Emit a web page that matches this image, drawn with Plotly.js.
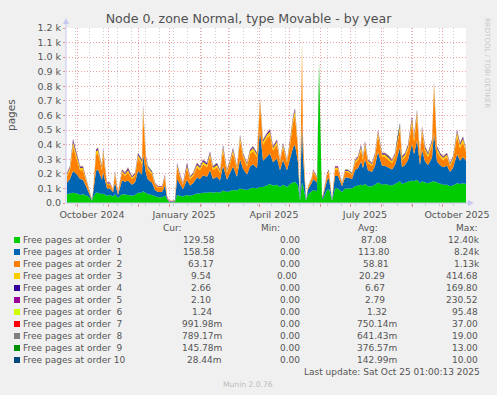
<!DOCTYPE html>
<html>
<head>
<meta charset="utf-8">
<script src="https://cdn.plot.ly/plotly-3.0.1.min.js"></script>
<style>html,body{margin:0;padding:0;background:#F0F0F0;}#chart{width:497px;height:395px;}</style>
</head>
<body>
<div id="chart"></div>
<script>
// ---------- DATA ----------
const dates = [
'2024-09-21','2024-09-24','2024-09-27','2024-10-01','2024-10-04','2024-10-07','2024-10-11','2024-10-14','2024-10-16','2024-10-17',
'2024-10-20','2024-10-22','2024-10-26','2024-10-27','2024-10-31','2024-11-03','2024-11-06','2024-11-08','2024-11-11','2024-11-15',
'2024-11-18','2024-11-21','2024-11-25','2024-11-28','2024-12-01','2024-12-05','2024-12-06','2024-12-09','2024-12-11','2024-12-15',
'2024-12-18','2024-12-21','2024-12-25','2024-12-28','2024-12-30','2025-01-01','2025-01-04','2025-01-07','2025-01-09','2025-01-12',
'2025-01-15','2025-01-19','2025-01-22','2025-01-25','2025-01-29','2025-02-01','2025-02-04','2025-02-08','2025-02-11','2025-02-14',
'2025-02-18','2025-02-21','2025-02-24','2025-02-28','2025-03-03','2025-03-06','2025-03-10','2025-03-13','2025-03-16','2025-03-20',
'2025-03-23','2025-03-26','2025-03-30','2025-04-02','2025-04-05','2025-04-09','2025-04-12','2025-04-15','2025-04-19','2025-04-22',
'2025-04-25','2025-04-29','2025-05-02','2025-05-05','2025-05-07','2025-05-10','2025-05-12','2025-05-14','2025-05-15','2025-05-18',
'2025-05-20','2025-05-24','2025-05-25','2025-05-29','2025-05-31','2025-06-03','2025-06-04','2025-06-08','2025-06-10','2025-06-13',
'2025-06-16','2025-06-19','2025-06-23','2025-06-26','2025-06-29','2025-07-03','2025-07-06','2025-07-09','2025-07-12','2025-07-14',
'2025-07-16','2025-07-19','2025-07-23','2025-07-26','2025-07-29','2025-08-02','2025-08-05','2025-08-08','2025-08-12','2025-08-15',
'2025-08-18','2025-08-20','2025-08-22','2025-08-25','2025-08-28','2025-08-30','2025-09-01','2025-09-03','2025-09-06','2025-09-09',
'2025-09-11','2025-09-14','2025-09-17','2025-09-21','2025-09-23','2025-09-26','2025-09-29','2025-10-02','2025-10-06','2025-10-09',
'2025-10-12','2025-10-16','2025-10-19','2025-10-22','2025-10-25'];

const order0 = [
60,65,70,65,55,60,50,35,15,40, 70,70,60,65,50,55,45,60,35,60, 55,55,50,55,70,70,80,70,60,55,
45,40,40,50,25,8,6,8,55,50, 45,55,50,55,65,65,70,70,75,70, 75,70,85,75,85,90,85,100,95,90,
100,105,100,110,110,120,130,120,125,110, 125,110,130,140,145,120,15,140,120,15, 60,80,90,80,960,25,30,90,95,15,
100,100,75,100,100,100,115,120,125,120, 130,115,115,125,140,125,130,125,120,130, 145,150,130,135,145,150,155,150,160,135,
150,140,135,145,150,140,130,125,125,115, 120,135,130,135,130];
const order1 = [
80,100,150,130,110,100,50,20,4,25, 150,160,100,150,50,45,28,80,20,95, 90,100,75,85,150,125,260,130,100,85,
45,35,35,70,10,2,2,3,110,75, 50,105,70,80,110,100,120,110,150,95, 105,85,170,85,120,160,95,200,140,105,
150,160,140,390,180,200,210,160,180,115, 170,115,180,240,255,160,4,430,200,4, 35,60,75,60,12,10,15,65,75,4,
85,85,40,75,75,65,110,120,160,120, 170,110,100,130,210,130,125,120,110,130, 180,230,115,125,150,200,250,185,270,125,
215,145,125,165,330,145,130,120,130,100, 120,200,160,180,159];
const order2 = [
45,60,170,90,60,65,25,9,1,10, 110,115,65,125,27,27,12,55,8,52, 42,55,40,45,90,72,270,85,65,55,
35,28,28,52,6,2,2,3,80,50, 30,80,45,50,70,60,75,65,95,60, 65,50,105,48,65,95,50,130,80,57,
85,90,75,180,110,125,125,80,95,52, 85,52,90,170,200,80,1,500,105,1, 12,30,45,30,5,6,7,35,40,1,
45,45,15,37,37,28,50,55,80,55, 90,50,42,60,115,60,60,50,45,55, 95,125,50,55,70,115,145,85,165,55,
120,70,55,85,310,70,57,50,60,40, 55,125,85,100,63];
const order3 = [
12,16,30,22,16,16,7,3,0,4, 24,22,17,26,6,6,4,14,2,13, 11,15,10,12,20,18,45,22,16,14,
7,6,6,14,2,0,0,0,18,12, 7,18,11,13,18,16,20,18,22,16, 18,14,26,12,17,21,13,26,18,14,
20,22,18,28,22,23,25,18,22,12, 20,12,22,30,35,18,0,50,21,0, 4,7,11,7,2,2,2,9,11,0,
13,13,4,10,10,7,13,15,20,15, 21,13,10,17,25,17,17,15,13,17, 24,28,15,17,22,25,29,24,30,17,
27,21,17,25,30,21,16,15,17,11, 15,28,23,27,10];
const order4 = [
6,8,16,10,8,7,3,1,0,1, 9,9,7,10,2,2,1,6,1,6, 5,12,5,6,10,9,16,10,8,6,
3,3,3,6,0,0,0,0,9,5, 3,14,4,5,9,8,9,9,9,8, 9,7,11,6,7,8,6,10,7,6,
8,9,7,9,9,9,10,8,9,5, 8,5,9,11,13,8,0,19,8,0, 1,3,5,3,0,1,1,4,5,0,
6,6,1,4,4,3,6,7,12,7, 9,6,5,8,10,8,8,7,6,8, 10,12,7,8,10,10,12,10,12,8,
11,10,8,11,11,10,7,7,8,6, 7,12,10,12,3];

const sdates = ['2024-09-21','2024-10-20','2024-11-21','2024-12-21','2025-01-19','2025-02-18','2025-03-20',
'2025-04-19','2025-05-20','2025-06-19','2025-07-19','2025-08-18','2025-09-17','2025-10-25'];
const order5  = [3.2,2.8,3.5,2.4,3.0,2.6,2.9,3.3,1.8,2.5,2.7,3.1,2.9,2.1];
const order6  = [1.5,1.3,1.6,1.1,1.4,1.2,1.3,1.5,0.8,1.2,1.3,1.4,1.4,1.24];
const order7  = [0.8,0.7,0.9,0.6,0.8,0.7,0.7,0.8,0.5,0.7,0.8,0.8,0.9,0.99];
const order8  = [0.7,0.6,0.7,0.5,0.6,0.6,0.6,0.7,0.4,0.6,0.7,0.7,0.7,0.79];
const order9  = [0.4,0.4,0.5,0.3,0.4,0.4,0.4,0.4,0.2,0.3,0.4,0.4,0.3,0.15];
const order10 = [0.15,0.15,0.2,0.1,0.15,0.15,0.15,0.15,0.1,0.1,0.15,0.15,0.1,0.03];

const seriesNames = ['Free pages at order\u00a0 0','Free pages at order\u00a0 1','Free pages at order\u00a0 2',
'Free pages at order\u00a0 3','Free pages at order\u00a0 4','Free pages at order\u00a0 5','Free pages at order\u00a0 6',
'Free pages at order\u00a0 7','Free pages at order\u00a0 8','Free pages at order\u00a0 9','Free pages at order 10'];
const seriesColors = ['#00CC00','#0066B3','#FF8000','#FFCC00','#330099','#990099','#CCFF00','#FF0000','#808080','#008F00','#00487D'];
const curVals = ['129.58','158.58','63.17','9.54','2.66','2.10','1.24','991.98m','789.17m','145.78m','28.44m'];
const minVals = ['0.00','0.00','0.00','0.00','0.00','0.00','0.00','0.00','0.00','0.00','0.00'];
const avgVals = ['87.08','113.80','58.81','20.29','6.67','2.79','1.32','750.14m','641.43m','376.57m','142.99m'];
const maxVals = ['12.40k','8.24k','1.13k','414.68','169.80','230.52','95.48','37.00','19.00','13.00','10.00'];
const yTickVals = [0,100,200,300,400,500,600,700,800,900,1000,1100,1200];
const yTickText = ['0.0','0.1 k','0.2 k','0.3 k','0.4 k','0.5 k','0.6 k','0.7 k','0.8 k','0.9 k','1.0 k','1.1 k','1.2 k'];
const monthTicks = ['2024-10-01','2024-11-01','2024-12-01','2025-01-01','2025-02-01','2025-03-01','2025-04-01',
'2025-05-01','2025-06-01','2025-07-01','2025-08-01','2025-09-01','2025-10-01'];
const monthText = ['October 2024','','','January 2025','','','April 2025','','','July 2025','','','October 2025'];

// ---------- LAYOUT HELPERS ----------
const L = 66, R = 466, T = 28, B = 203;
const X = px => (px - L) / (R - L);
const Y = py => (B - py) / (B - T);

const mainSeries = [order0, order1, order2, order3, order4];
const smallSeries = [order5, order6, order7, order8, order9, order10];
const traces = [];
mainSeries.forEach((s, i) => traces.push({
  x: dates, y: s, type: 'scatter', mode: 'lines', stackgroup: 'a', stackgaps: 'interpolate',
  line: {width: 0}, fillcolor: seriesColors[i], hoverinfo: 'skip', name: seriesNames[i]
}));
smallSeries.forEach((s, i) => traces.push({
  x: sdates, y: s, type: 'scatter', mode: 'lines', stackgroup: 'a', stackgaps: 'interpolate',
  line: {width: 0}, fillcolor: seriesColors[i + 5], hoverinfo: 'skip', name: seriesNames[i + 5]
}));

const txt = '#555555';
const fontLeg = {family: 'DejaVu Sans', size: 9, color: txt};
const annotations = [];
const shapes = [];

[['Cur:',161],['Min:',259],['Avg:',356],['Max:',454]].forEach(h => annotations.push({
  xref:'paper', yref:'paper', x: X(h[1]), y: Y(228), text: h[0], showarrow:false,
  xanchor:'left', yanchor:'middle', font: fontLeg
}));
const curR = [217,217,216,213,213,213,214,224,224,224,224];
const minR = [302,302,302,299,302,302,302,302,302,302,302];
const avgR = [389,392,391,387,387,387,389,399,399,399,399];
const maxR = [482,482,482,480,480,480,480,480,480,480,480];
seriesNames.forEach((n, i) => {
  const ry = 240 + 12 * i;
  shapes.push({type:'rect', xref:'paper', yref:'paper', x0: X(14), x1: X(20), y0: Y(ry + 3), y1: Y(ry - 3),
    fillcolor: seriesColors[i], line: {width: 0}});
  annotations.push({xref:'paper', yref:'paper', x: X(20.5), y: Y(ry), text: n, showarrow:false,
    xanchor:'left', yanchor:'middle', font: fontLeg});
  [[curVals, curR], [minVals, minR], [avgVals, avgR], [maxVals, maxR]].forEach(c => annotations.push({
    xref:'paper', yref:'paper', x: X(c[1][i]), y: Y(ry), text: c[0][i], showarrow:false,
    xanchor:'right', yanchor:'middle', font: fontLeg
  }));
});
annotations.push({xref:'paper', yref:'paper', x: X(482), y: Y(372), text: 'Last update: Sat Oct 25 01:00:13 2025',
  showarrow:false, xanchor:'right', yanchor:'middle', font: fontLeg});
annotations.push({xref:'paper', yref:'paper', x: X(248), y: Y(384), text: 'Munin 2.0.76',
  showarrow:false, xanchor:'center', yanchor:'middle', font: {family:'DejaVu Sans', size: 7.6, color:'#bbbbbb'}});
annotations.push({xref:'paper', yref:'paper', x: X(11), y: Y(115), text: 'pages', textangle: -90,
  showarrow:false, xanchor:'center', yanchor:'middle', font: {family:'DejaVu Sans', size: 10.5, color: txt}});
annotations.push({xref:'paper', yref:'paper', x: X(487), y: Y(16), text: 'RRDTOOL / TOBI OETIKER', textangle: 90,
  showarrow:false, xanchor:'center', yanchor:'top', font: {family:'DejaVu Sans', size: 7, color:'#c8c8c8'}});

const ac = '#c8c8f0';
shapes.push({type:'line', xref:'paper', yref:'paper', x0: X(66), x1: X(66), y0: Y(203), y1: Y(22), line:{color: ac, width:1}});
shapes.push({type:'path', xref:'paper', yref:'paper',
  path: `M ${X(63)} ${Y(24)} L ${X(69)} ${Y(24)} L ${X(66)} ${Y(18)} Z`, fillcolor: ac, line:{width:0}});
shapes.push({type:'line', xref:'paper', yref:'paper', x0: X(66), x1: X(470), y0: Y(203), y1: Y(203), line:{color: ac, width:1}});
shapes.push({type:'path', xref:'paper', yref:'paper',
  path: `M ${X(468)} ${Y(200)} L ${X(468)} ${Y(206)} L ${X(474)} ${Y(203)} Z`, fillcolor: ac, line:{width:0}});

const layout = {
  width: 497, height: 395,
  paper_bgcolor: '#F0F0F0', plot_bgcolor: '#FFFFFF',
  margin: {l: L, r: 497 - R, t: T, b: 395 - B, pad: 0},
  showlegend: false,
  title: {text: 'Node 0, zone Normal, type Movable - by year', xref: 'container', x: 0.5, xanchor: 'center',
    yref: 'container', y: 1 - 19 / 395, yanchor: 'middle',
    font: {family: 'DejaVu Sans', size: 12.6, color: '#505050'}},
  xaxis: {
    type: 'date', range: ['2024-09-20', '2025-10-25'], fixedrange: true,
    tickmode: 'array', tickvals: monthTicks, ticktext: monthText, ticklabelshift: 15,
    ticks: 'outside', ticklen: 3, tickcolor: '#e89090', tickwidth: 1,
    showgrid: true, gridcolor: '#f2a0a0', griddash: '1px,2px', gridwidth: 1,
    minor: {tick0: '2024-09-29', dtick: 14 * 86400000, showgrid: true, gridcolor: '#d0d0d0', griddash: '1px,2px',
      ticks: 'outside', ticklen: 2, tickcolor: '#cccccc'},
    showline: false, zeroline: false,
    tickfont: {family: 'DejaVu Sans', size: 9.5, color: txt}
  },
  yaxis: {
    range: [0, 1200], fixedrange: true,
    tickmode: 'array', tickvals: yTickVals, ticktext: yTickText,
    ticks: 'outside', ticklen: 2, tickcolor: '#e89090',
    showgrid: true, gridcolor: '#f2a0a0', griddash: '1px,2px', gridwidth: 1,
    showline: false, zeroline: false,
    tickfont: {family: 'DejaVu Sans', size: 9.5, color: txt}
  },
  annotations: annotations,
  shapes: shapes
};

Plotly.newPlot('chart', traces, layout, {displayModeBar: false, staticPlot: true});
</script>
</body>
</html>
